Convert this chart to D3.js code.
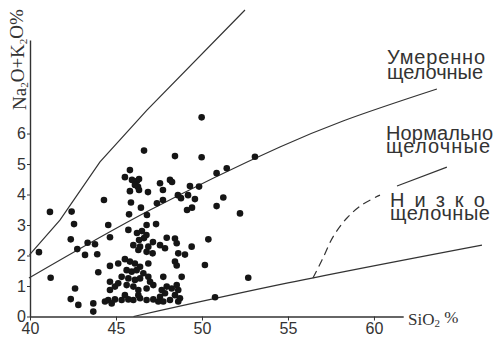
<!DOCTYPE html>
<html>
<head>
<meta charset="utf-8">
<script src="https://cdn.jsdelivr.net/npm/d3@7"></script>
<style>
  html, body { margin: 0; padding: 0; background: #fff; }
  svg { display: block; }
</style>
</head>
<body>
<svg id="chart" width="497" height="344"></svg>
<script>
// Tick values
const xTicks = [40, 45, 50, 55, 60];
const yTicks = [0, 1, 2, 3, 4, 5, 6];

// Samples: SiO2 (wt.%) and Na2O+K2O (wt.%)
const sio2 = [
  40.52, 41.16, 41.20, 42.42, 42.56, 42.37, 42.75, 42.62, 42.37, 42.81,
  43.35, 43.78, 43.20, 43.91, 43.68, 43.68, 43.97, 44.30, 44.55, 44.65,
  45.81, 45.52, 45.93, 46.22, 46.34, 46.10, 46.28, 45.81, 46.34, 46.86,
  45.87, 46.45, 45.76, 46.80, 46.63,
  45.72, 46.78, 47.33, 46.22, 46.51, 46.77, 46.63, 46.34, 47.15, 46.01,
  46.40, 46.88, 46.30, 46.78, 47.13, 44.65, 45.13, 45.52, 45.81, 46.10,
  46.40, 46.88, 45.62, 45.91, 46.20, 46.59, 45.33, 45.72, 46.10, 46.40,
  46.88, 44.65, 44.94, 44.65, 45.13, 45.62, 46.01, 46.30, 46.78, 47.17,
  44.55, 44.36, 44.94, 44.75, 45.33, 45.72, 46.01, 46.40, 46.78, 47.17,
  47.46, 45.52, 46.30,
  47.56, 48.14, 48.26, 47.73, 48.60, 48.78, 49.19, 49.59, 49.30, 49.83,
  47.38, 47.73, 49.13, 49.42,
  47.56, 47.85, 47.95, 48.43, 48.53, 48.62, 49.01, 49.40,
  48.43, 48.53, 47.75, 48.82, 46.98, 47.66, 47.85, 47.56, 47.95, 48.24,
  48.53, 48.62, 48.43, 48.72, 48.14, 47.75, 48.62,
  49.98, 48.43, 49.98, 53.08, 51.44, 50.85, 51.24, 50.85, 52.21, 50.37,
  50.17, 52.69, 50.76
];
const alkali = [
  2.11, 3.43, 1.27, 3.44, 3.03, 2.53, 2.21, 0.92, 0.57, 0.38,
  2.42, 2.37, 2.02, 2.04, 0.43, 0.16, 1.45, 3.82, 3.00, 2.60,
  4.80, 4.57, 4.48, 4.44, 4.51, 4.31, 4.25, 4.11, 4.15, 4.08,
  3.74, 3.57, 3.35, 3.33, 5.44,
  2.84, 3.00, 3.03, 2.74, 2.80, 2.67, 2.57, 2.51, 2.44, 2.34,
  2.29, 2.29, 2.18, 2.12, 2.07, 1.66, 1.74, 1.88, 1.80, 1.74,
  1.63, 1.74, 1.52, 1.47, 1.52, 1.42, 1.30, 1.25, 1.20, 1.25,
  1.30, 1.14, 0.98, 0.87, 1.09, 1.03, 0.98, 0.87, 0.92, 1.03,
  0.54, 0.49, 0.56, 0.43, 0.54, 0.56, 0.54, 0.60, 0.54, 0.56,
  0.49, 0.70, 0.70,
  4.37, 4.48, 4.41, 4.15, 3.98, 3.88, 3.98, 3.85, 4.28, 4.26,
  3.71, 3.82, 3.49, 3.57,
  2.34, 2.24, 2.58, 2.56, 2.40, 2.07, 2.03, 2.29,
  1.80, 1.67, 1.30, 1.30, 1.14, 0.87, 0.76, 0.65, 0.98, 0.92,
  1.03, 0.87, 0.70, 0.60, 0.54, 0.49, 0.49,
  6.53, 5.26, 5.22, 5.24, 4.86, 4.70, 3.90, 3.62, 3.38, 2.53,
  1.69, 1.27, 0.63
];

// Field boundaries [SiO2, Na2O+K2O]
const upperBoundary  = [[39.97, 2.02], [41.74, 3.16], [44.07, 5.07], [46.80, 6.77], [52.50, 10.05]];
const middleBoundary = [[39.94, 1.26], [46.98, 3.49], [54.53, 5.56], [58.20, 6.41], [63.66, 7.46]];
const lowerBoundary  = [[46.02, 0.00], [55.00, 1.10], [66.28, 2.34]];
const dashedBoundary = [[56.45, 1.26], [56.98, 1.85], [57.62, 2.61], [58.43, 3.23], [59.30, 3.66], [60.35, 3.98]];
const dashedTail     = [[61.34, 4.28], [64.24, 4.90]];

// Field names, two lines each
const fieldNames = [
  ["Умеренно", "щелочные"],
  ["Нормально", "щелочные"],
  ["Низко", "щелочные"]
];

const svg = d3.select("#chart");
const ink = "#333333";

const x = d3.scaleLinear().domain([40, 61.7]).range([30, 403.2]);
const y = d3.scaleLinear().domain([0, 9.07]).range([316.5, 39.9]);

// Axes
const xAxis = svg.append("g")
  .attr("transform", `translate(0,${y(0)})`)
  .call(d3.axisBottom(x).tickValues(xTicks).tickSize(4).tickSizeOuter(0).tickPadding(2));
const yAxis = svg.append("g")
  .attr("transform", `translate(${x(40)},0)`)
  .call(d3.axisLeft(y).tickValues(yTicks).tickSize(3).tickSizeOuter(0).tickPadding(1));

[xAxis, yAxis].forEach(g => {
  g.select(".domain").attr("stroke", ink).attr("stroke-width", 1.4);
  g.selectAll(".tick line").attr("stroke", ink).attr("stroke-width", 1);
  g.selectAll(".tick text")
    .attr("fill", ink)
    .style("font-family", "'Liberation Sans', Arial, sans-serif")
    .style("font-size", "16px");
});

// Boundary curves
const lineLinear = d3.line().x(d => x(d[0])).y(d => y(d[1]));
const lineSmooth = d3.line().x(d => x(d[0])).y(d => y(d[1])).curve(d3.curveCatmullRom.alpha(0.5));

svg.append("path").datum(upperBoundary).attr("d", lineLinear)
  .attr("fill", "none").attr("stroke", ink).attr("stroke-width", 1.2);
svg.append("path").datum(middleBoundary).attr("d", lineSmooth)
  .attr("fill", "none").attr("stroke", ink).attr("stroke-width", 1.2);
svg.append("path").datum(lowerBoundary).attr("d", lineSmooth)
  .attr("fill", "none").attr("stroke", ink).attr("stroke-width", 1.2);
svg.append("path").datum(dashedBoundary).attr("d", lineSmooth)
  .attr("fill", "none").attr("stroke", ink).attr("stroke-width", 1.2)
  .attr("stroke-dasharray", "8,5");
svg.append("path").datum(dashedTail).attr("d", lineLinear)
  .attr("fill", "none").attr("stroke", ink).attr("stroke-width", 1.2);

// Samples
svg.append("g").selectAll("circle")
  .data(d3.range(sio2.length))
  .join("circle")
  .attr("cx", i => x(sio2[i]))
  .attr("cy", i => y(alkali[i]))
  .attr("r", 3.3)
  .attr("fill", "#151515");

// Field labels
const labelFont = "'Liberation Sans', Arial, sans-serif";
const fieldAnchors = [[60.76, 8.28], [60.70, 5.79], [60.93, 3.60]];
const fieldWidths = [[98, 96], [107, 104], [95, 100]];
const fieldLeading = [15, 13.5, 13.5];
fieldNames.forEach((lines, k) => {
  const [ax, ay] = fieldAnchors[k];
  lines.forEach((t, j) => {
    svg.append("text")
      .attr("x", x(ax))
      .attr("y", y(ay) + j * fieldLeading[k])
      .attr("fill", ink)
      .attr("textLength", fieldWidths[k][j])
      .attr("lengthAdjust", "spacing")
      .style("font-family", labelFont)
      .style("font-size", "20px")
      .text(t);
  });
});

// Axis titles
const serif = "'Liberation Serif', 'Times New Roman', serif";
const xt = svg.append("text")
  .attr("x", 408).attr("y", y(0) + 8)
  .attr("fill", ink)
  .style("font-family", serif).style("font-size", "17px");
xt.append("tspan").text("SiO");
xt.append("tspan").attr("dy", "0.25em").style("font-size", "11px").text("2");
xt.append("tspan").attr("dy", "-0.25em").text(" %");

const yt = svg.append("text")
  .attr("transform", "translate(26,110) rotate(-90)")
  .attr("fill", ink)
  .style("font-family", serif).style("font-size", "19px");
yt.append("tspan").text("Na");
yt.append("tspan").attr("dy", "0.2em").style("font-size", "11px").text("2");
yt.append("tspan").attr("dy", "-0.2em").text("O+K");
yt.append("tspan").attr("dy", "0.2em").style("font-size", "11px").text("2");
yt.append("tspan").attr("dy", "-0.2em").text("O%");
</script>
</body>
</html>
